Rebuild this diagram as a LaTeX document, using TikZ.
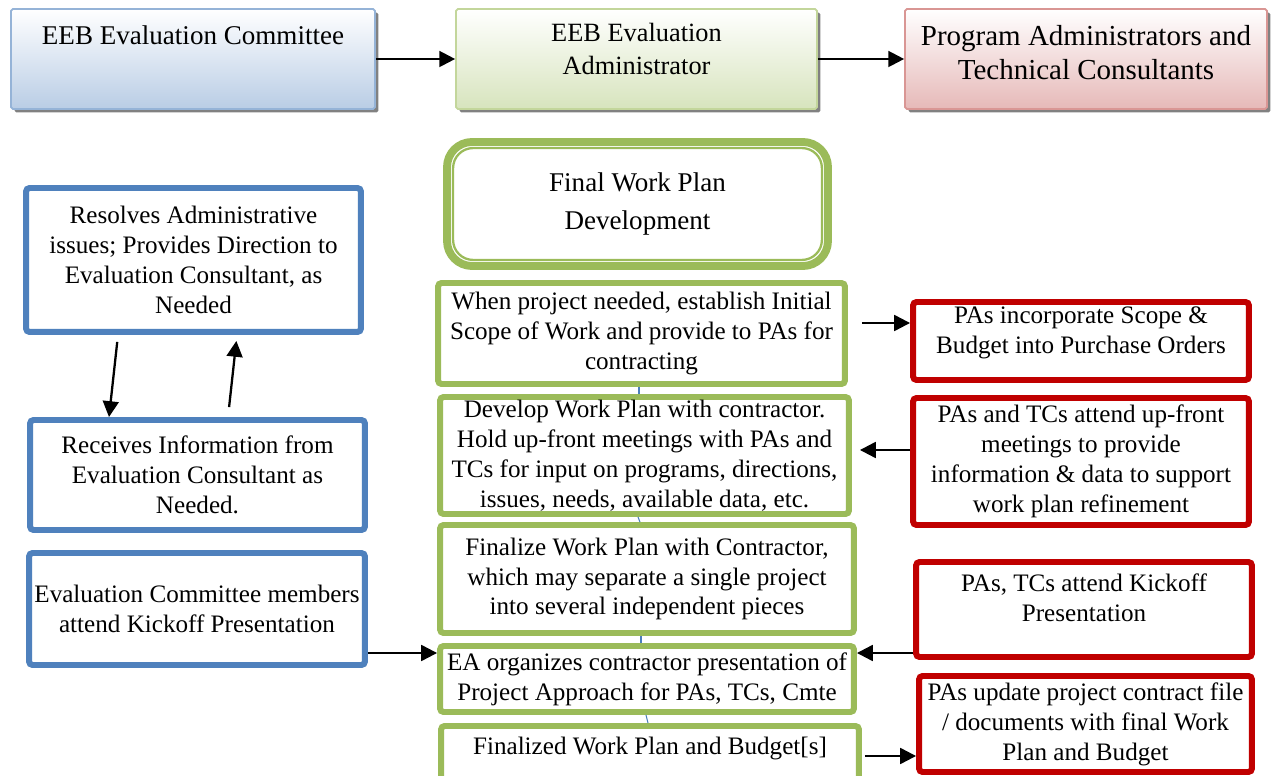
\documentclass[tikz,border=0pt]{standalone}
\usepackage{fontspec}
\setmainfont{Liberation Serif}
\usetikzlibrary{arrows.meta,shadows,positioning}

\definecolor{eebblue}{HTML}{4F81BD}
\definecolor{eebgreen}{HTML}{9BBB59}
\definecolor{eebred}{HTML}{C00000}
\definecolor{cmteline}{HTML}{95B3D7}
\definecolor{cmtefill}{HTML}{B9CDE5}
\definecolor{adminline}{HTML}{C3D69B}
\definecolor{adminfill}{HTML}{D7E4BD}
\definecolor{pataline}{HTML}{D99694}
\definecolor{patafill}{HTML}{E6B9B8}
\definecolor{linkblue}{HTML}{4A7EBB}

\tikzset{
  body/.style={font=\fontsize{14.3}{17}\selectfont},
  txt/.style={align=center, inner sep=0pt},
  topbox/.style={draw, line width=1pt, rounded corners=1pt, minimum height=2cm,
    drop shadow={shadow xshift=0.07cm, shadow yshift=-0.07cm, fill=black!55, opacity=0.9}},
  framebox/.style={line width=3.4pt, rounded corners=2pt, fill=white, align=center, inner sep=0pt, body},
  bluebox/.style={framebox, draw=eebblue},
  greenbox/.style={framebox, draw=eebgreen},
  redbox/.style={framebox, draw=eebred},
  fwpbox/.style={draw=eebgreen, line width=4.5pt, rounded corners=0.5cm, fill=white, align=center,
    font=\fontsize{15.4}{22}\selectfont},
  arr/.style={->, line width=1.3pt},
  link/.style={draw=linkblue, line width=0.6pt},
}

\begin{document}
\begin{tikzpicture}[x=0.02cm, y=-0.02cm, >={Triangle[length=9pt,width=9pt]}]
  \useasboundingbox (0,0) rectangle (1271,776);

  % top row
  \node[topbox, draw=cmteline, top color=white, bottom color=cmtefill, minimum width=7.28cm] (cmte) at (193,59) {};
  \node[txt, font=\fontsize{15.4}{19}\selectfont] (cmte-t) at (193,35) {EEB Evaluation Committee};
  \node[topbox, draw=adminline, top color=white, bottom color=adminfill, minimum width=7.22cm] (admin) at (636.5,59) {};
  \node[txt, font=\fontsize{15}{19.3}\selectfont] (admin-t) at (636.5,49) {EEB Evaluation\\Administrator};
  \node[topbox, draw=pataline, top color=white, bottom color=patafill, minimum width=7.24cm] (pata) at (1086,59) {};
  \node[txt, font=\fontsize{16.5}{19.3}\selectfont] (pata-t) at (1086,53) {Program Administrators and\\Technical Consultants};

  % middle column
  \node[fwpbox, minimum width=7.62cm, minimum height=2.48cm] (fwp) at (637.5,204) {Final Work Plan\\Development};
  \draw[eebgreen, line width=1.3pt, rounded corners=0.4cm] ([shift={(10,10)}]fwp.north west) rectangle ([shift={(-10,-10)}]fwp.south east);
  \node[greenbox, minimum width=8.14cm, minimum height=2.02cm] (g1) at (641.5,333.5) {When project needed, establish Initial\\Scope of Work and provide to PAs for\\contracting};
  \node[greenbox, minimum width=8.18cm, minimum height=2.34cm] (g2) at (644.5,455.5) {Develop Work Plan with contractor.\\Hold up-front meetings with PAs and\\TCs for input on programs, directions,\\issues, needs, available data, etc.};
  \node[greenbox, minimum width=8.28cm, minimum height=2.16cm] (g3) at (647,579) {Finalize Work Plan with Contractor,\\which may separate a single project\\into several independent pieces};
  \node[greenbox, minimum width=8.28cm, minimum height=1.32cm] (g4) at (647,679) {EA organizes contractor presentation of\\Project Approach for PAs, TCs, Cmte};
  \node[greenbox, minimum width=8.36cm, minimum height=1.48cm] (g5) at (650,763) {};
  \node[txt, body] (g5-t) at (650,748) {Finalized Work Plan and Budget[s]};

  % left column
  \node[bluebox, minimum width=6.70cm, minimum height=2.88cm] (b1) at (193.5,260) {Resolves Administrative\\issues; Provides Direction to\\Evaluation Consultant, as\\Needed};
  \node[bluebox, minimum width=6.70cm, minimum height=2.20cm] (b2) at (197.5,475) {Receives Information from\\Evaluation Consultant as\\Needed.};
  \node[bluebox, minimum width=6.72cm, minimum height=2.24cm] (b3) at (197,609) {Evaluation Committee members\\attend Kickoff Presentation};

  % right column
  \node[redbox, minimum width=6.72cm, minimum height=1.56cm] (r1) at (1081,341) {};
  \node[txt, body] (r1-t) at (1081,333) {PAs incorporate Scope \&\\Budget into Purchase Orders};
  \node[redbox, minimum width=6.72cm, minimum height=2.54cm] (r2) at (1081,461.5) {PAs and TCs attend up-front\\meetings to provide\\information \& data to support\\work plan refinement};
  \node[redbox, minimum width=6.72cm, minimum height=1.90cm] (r3) at (1084,609.5) {};
  \node[txt, body] (r3-t) at (1084,598) {PAs, TCs attend Kickoff\\Presentation};
  \node[redbox, minimum width=6.66cm, minimum height=1.92cm] (r4) at (1085.5,724) {PAs update project contract file\\/ documents with final Work\\Plan and Budget};

  \draw[arr] (cmte) to (admin);
  \draw[arr] (admin) to (pata);
  \draw[arr, shorten <=0.14cm] (b1.south -| 118,0) to (b2.north -| 109,0);
  \draw[arr, shorten <=0.2cm, shorten >=0.12cm] (b2.north -| 228,0) to (b1.south -| 237,0);
  \draw[arr] (b3.east |- 0,653) to (g4.west |- 0,653);
  \draw[arr, shorten <=0.28cm] (g1.east |- 0,323) to (r1.west |- 0,323);
  \draw[arr, shorten >=0.16cm] (r2.west |- 0,450) to (g2.east |- 0,450);
  \draw[arr] (r3.west |- 0,653) to (g4.east |- 0,653);
  \draw[arr, shorten <=0.06cm] (g5.east |- 0,756) to (r4.west |- 0,756);
  \draw[link] (g1.south -| 639,0) to (g2.north -| 639,0);
  \draw[link] (g2.south -| 638,0) to (g3.north -| 640,0);
  \draw[link] (g3.south -| 641,0) to (g4.north -| 641,0);
  \draw[link] (g4.south -| 646,0) to (g5.north -| 648,0);
\end{tikzpicture}
\end{document}
